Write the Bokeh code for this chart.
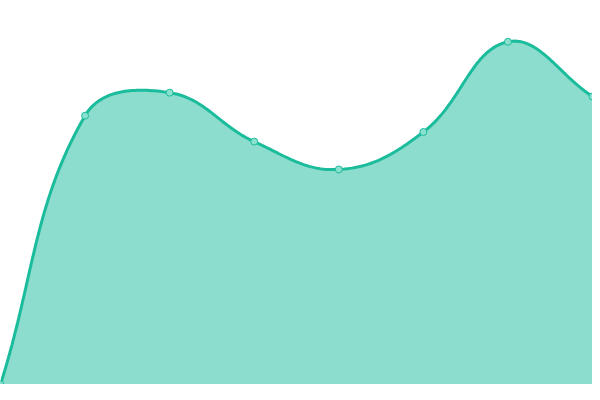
import numpy as np
from bokeh.plotting import figure
from bokeh.models import Range1d
from bokeh.embed import file_html
from bokeh.resources import INLINE

# data
categories = ["A", "B", "C", "D", "E", "F", "G", "H"]
values = [0, 280, 304, 253, 224, 263, 357, 300]

W, H = 592, 384
Y_MAX = 400
N = len(values)

p = figure(width=W, height=H, output_backend="svg", toolbar_location=None,
           x_range=Range1d(0, N - 1), y_range=Range1d(0, Y_MAX),
           min_border=0, outline_line_color=None)
p.axis.visible = False
p.grid.visible = False
p.background_fill_color = "white"
p.border_fill_color = "white"

# cardinal spline (Chart.js-like, tension 0.4) computed in screen space
xs_px = np.arange(N) * W / (N - 1)
ys_px = np.array(values, dtype=float) * H / Y_MAX
pts = np.column_stack([xs_px, ys_px])
t = 0.4
cp_prev = []
cp_next = []
for i in range(N):
    cur = pts[i]
    prev = pts[i - 1] if i > 0 else cur
    nxt = pts[i + 1] if i < N - 1 else cur
    d01 = np.hypot(*(cur - prev))
    d12 = np.hypot(*(nxt - cur))
    tot = d01 + d12
    s01 = d01 / tot if tot else 0
    s12 = d12 / tot if tot else 0
    fa, fb = t * s01, t * s12
    cp_prev.append(cur - fa * (nxt - prev))
    cp_next.append(cur + fb * (nxt - prev))

cx, cy = [], []
ss = np.linspace(0, 1, 40)
for i in range(N - 1):
    p0, p1, p2, p3 = pts[i], cp_next[i], cp_prev[i + 1], pts[i + 1]
    for s in (ss if i == 0 else ss[1:]):
        b = ((1 - s) ** 3) * p0 + 3 * ((1 - s) ** 2) * s * p1 + 3 * (1 - s) * s * s * p2 + s ** 3 * p3
        cx.append(b[0])
        cy.append(b[1])
cx = np.array(cx) * (N - 1) / W
cy = np.clip(np.array(cy), 0, H) * Y_MAX / H

p.varea(x=cx, y1=np.zeros_like(cy), y2=cy, fill_color="#1abc9c", fill_alpha=0.5)
p.line(cx, cy, line_color="#1abc9c", line_width=3)
p.scatter(list(range(N)), values, size=7, fill_color="#8ce0cf",
          line_color="#1abc9c", line_width=1)

open("out.html", "w").write(file_html(p, INLINE))
